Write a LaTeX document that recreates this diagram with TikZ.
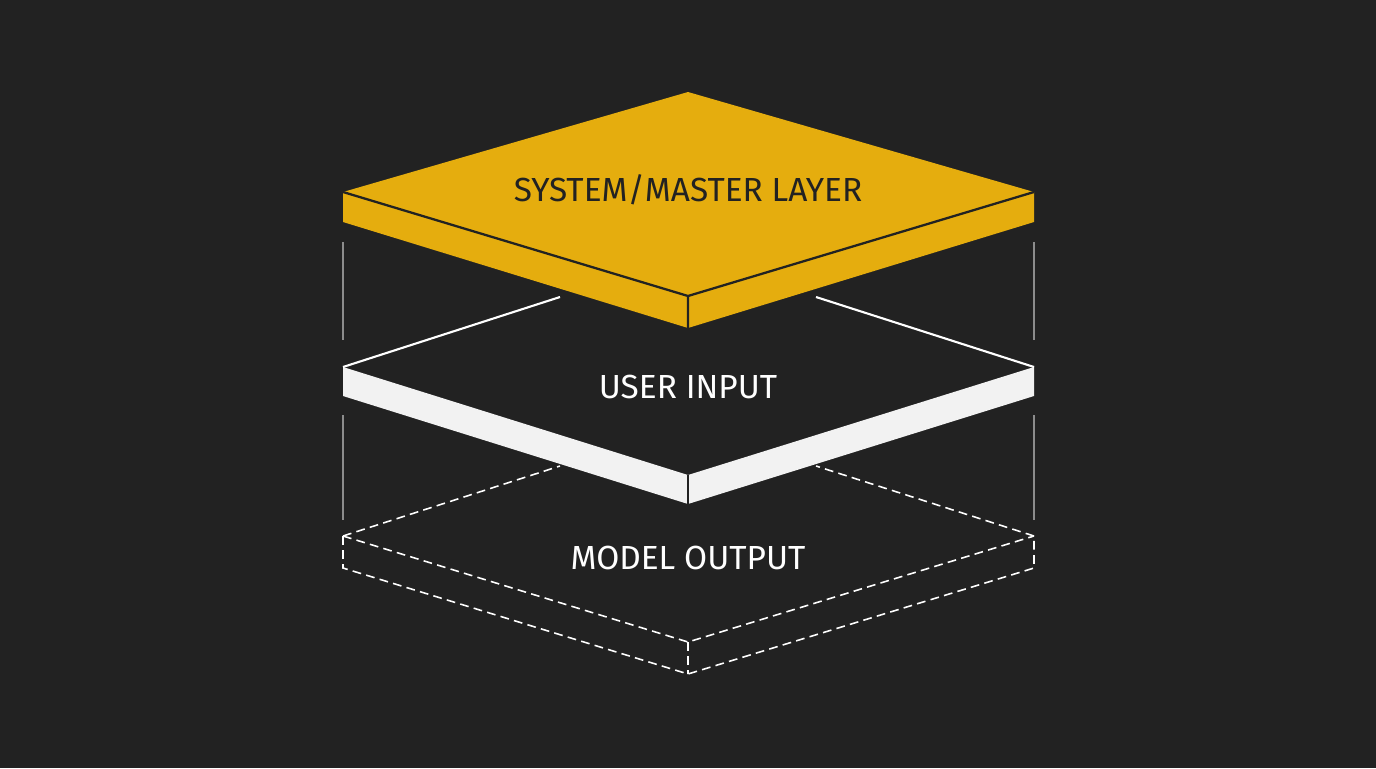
\documentclass[tikz,border=0pt]{standalone}
\usepackage{fontspec}
\setmainfont{Fira Sans}
\begin{document}
\begin{tikzpicture}[x=0.02cm,y=-0.02cm,
 lbl/.style={font=\fontsize{19}{22}\selectfont},
 guide/.style={draw=white!55!black,line width=0.8pt},
 dashline/.style={draw=white,line width=0.9pt,dash pattern=on 5pt off 3pt}]
\definecolor{bg}{HTML}{222222}\definecolor{gold}{HTML}{E5AD0E}
\fill[bg] (0,0) rectangle (1376,768);
\useasboundingbox (0,0) rectangle (1376,768);
% guides
\draw[guide] (343,242)--(343,340) (343,415)--(343,520) (1034,242)--(1034,340) (1034,415)--(1034,520);
% bottom dashed
\draw[dashline] (343,536)--(688,642)--(1034,536) (343,536)--(343,568)--(688,674)--(1034,568)--(1034,536) (688,642)--(688,674);
\draw[dashline] (343,536)--(560,466) (1034,536)--(816,466);
% middle
\fill[white!95!black] (343,367)--(688,475)--(688,504)--(343,396)--cycle;
\fill[white!95!black] (1034,367)--(688,475)--(688,504)--(1034,396)--cycle;
\draw[bg,line width=1.5pt] (688,475)--(688,506);
\draw[white,line width=1.2pt] (343,367)--(560,297) (1034,367)--(816,297);
% top
\fill[gold] (343,192)--(688,92)--(1034,192)--(1034,222)--(688,328)--(343,222)--cycle;
\draw[bg,line width=1.3pt] (343,192)--(688,296)--(1034,192) (688,296)--(688,328);
\node[lbl,text=bg] (top) at (688,190) {SYSTEM/MASTER LAYER};
\node[lbl,text=white] (mid) at (688,387) {USER INPUT};
\node[lbl,text=white] (bot) at (688,558) {MODEL OUTPUT};
\end{tikzpicture}
\end{document}
